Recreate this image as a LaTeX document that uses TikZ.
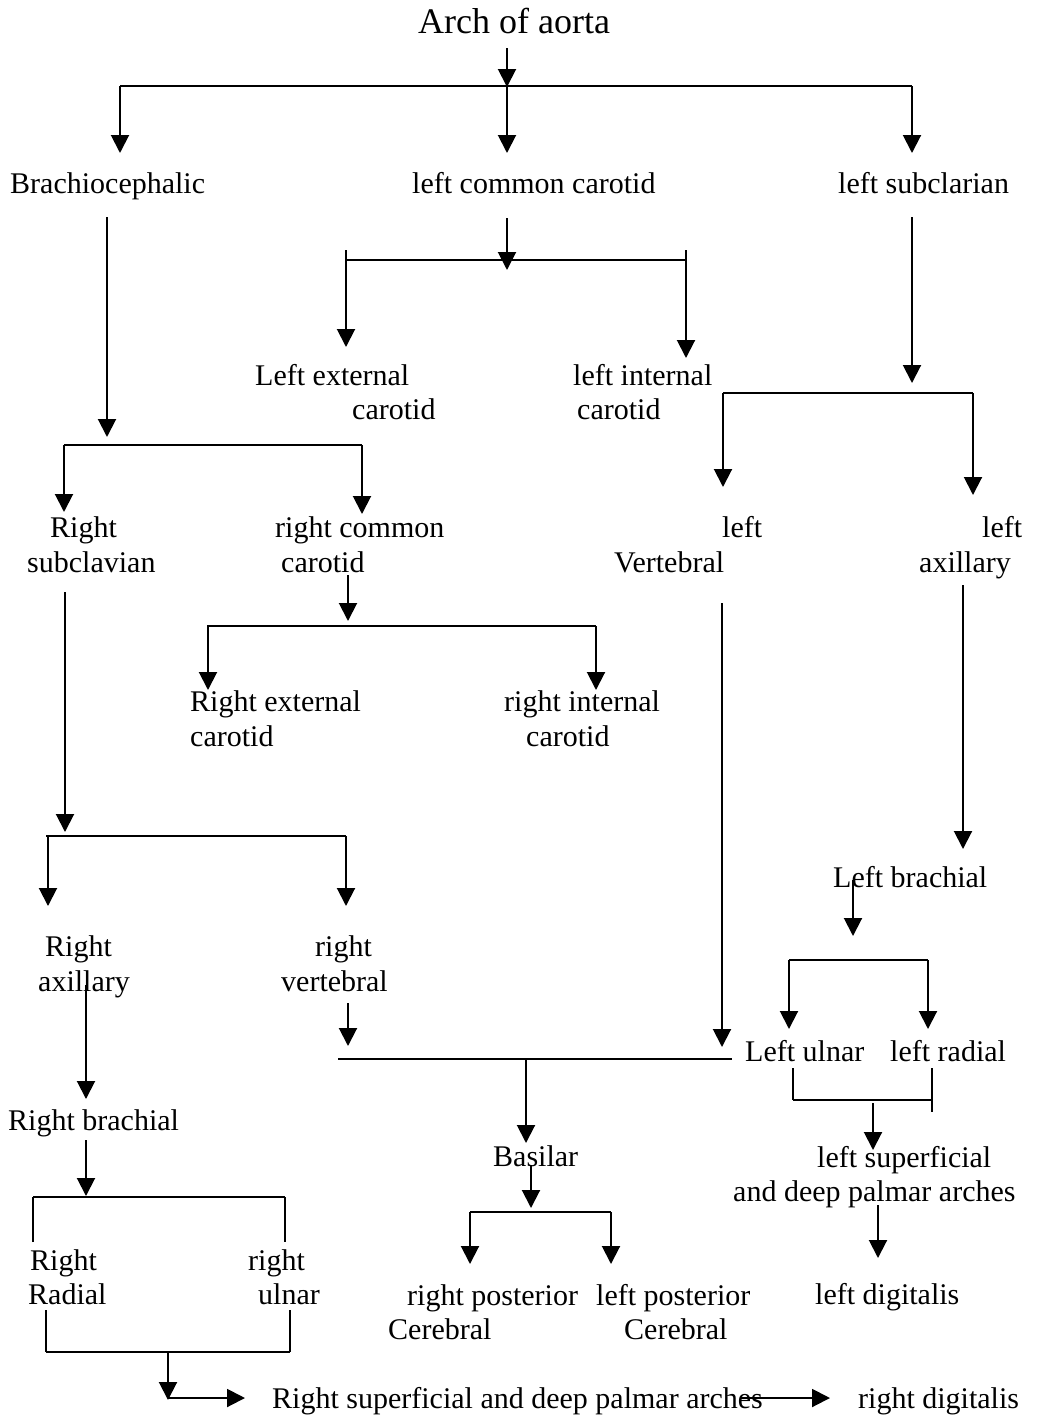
\documentclass[tikz,border=0pt]{standalone}
\usepackage{fontspec}
\setmainfont{Liberation Serif}
\usetikzlibrary{arrows.meta}
\begin{document}
\begin{tikzpicture}[x=1pt,y=-1pt,
  lbl/.style={anchor=base west,inner sep=0pt,font=\fontsize{30}{34}\selectfont},
  ttl/.style={anchor=base west,inner sep=0pt,font=\fontsize{36}{40}\selectfont},
  conn/.style={line width=2pt},
  bar/.style={line width=2.4pt},
  arr/.style={line width=2pt,-{Triangle[width=18pt,length=18pt]}}]
\useasboundingbox (0,0) rectangle (1036,1416);
% ---- texts
\node[ttl] (t) at (418,33) {Arch of aorta};
\node[lbl] (b1) at (10,193) {Brachiocephalic};
\node[lbl] (lcc) at (412,193) {left common carotid};
\node[lbl] (lsub) at (838,193) {left subclarian};
\node[lbl] (lext1) at (255,385) {Left external};
\node[lbl] (lext2) at (352,419) {carotid};
\node[lbl] (lint1) at (573,385) {left internal};
\node[lbl] (lint2) at (577,419) {carotid};
\node[lbl] (rsub1) at (50,537) {Right};
\node[lbl] (rsub2) at (27,572) {subclavian};
\node[lbl] (rcc1) at (275,537) {right common};
\node[lbl] (rcc2) at (281,572) {carotid};
\node[lbl] (lvert1) at (722,537) {left};
\node[lbl] (lvert2) at (614,572) {Vertebral};
\node[lbl] (lax1) at (982,537) {left};
\node[lbl] (lax2) at (919,572) {axillary};
\node[lbl] (rext1) at (190,711) {Right external};
\node[lbl] (rext2) at (190,746) {carotid};
\node[lbl] (rint1) at (504,711) {right internal};
\node[lbl] (rint2) at (526,746) {carotid};
\node[lbl] (lbr) at (833,887) {Left brachial};
\node[lbl] (rax1) at (45,956) {Right};
\node[lbl] (rax2) at (38,991) {axillary};
\node[lbl] (rvert1) at (315,956) {right};
\node[lbl] (rvert2) at (281,991) {vertebral};
\node[lbl] (lul) at (745,1061) {Left ulnar};
\node[lbl] (lrad) at (890,1061) {left radial};
\node[lbl] (rbr) at (8,1130) {Right brachial};
\node[lbl] (bas) at (493,1166) {Basilar};
\node[lbl] (lsup1) at (817,1167) {left superficial};
\node[lbl] (lsup2) at (733,1201) {and deep palmar arches};
\node[lbl] (rrad1) at (30,1270) {Right};
\node[lbl] (rrad2) at (28,1304) {Radial};
\node[lbl] (rul1) at (248,1270) {right};
\node[lbl] (rul2) at (258,1304) {ulnar};
\node[lbl] (rpc1) at (407,1305) {right posterior};
\node[lbl] (rpc2) at (388,1339) {Cerebral};
\node[lbl] (lpc1) at (596,1305) {left posterior};
\node[lbl] (lpc2) at (624,1339) {Cerebral};
\node[lbl] (ldig) at (815,1304) {left digitalis};
\node[lbl] (rsp) at (272,1408) {Right superficial and deep palmar arches};
\node[lbl] (rdig) at (858,1408) {right digitalis};
% ---- junction coordinates
\coordinate (a0) at (507,48);  \coordinate (a1) at (507,87);
\coordinate (h1l) at (120,86); \coordinate (h1r) at (912,86);
\coordinate (e1a) at (120,153); \coordinate (e1b) at (507,153); \coordinate (e1c) at (912,153);
\coordinate (b0) at (107,217); \coordinate (b1e) at (107,437);
\coordinate (h2l) at (64,445); \coordinate (h2r) at (362,445);
\coordinate (e2a) at (64,512); \coordinate (e2b) at (362,514);
\coordinate (c0) at (507,218); \coordinate (c1) at (507,270);
\coordinate (h3l) at (346,260); \coordinate (h3r) at (686,260);
\coordinate (s3l) at (346,250); \coordinate (s3r) at (686,250);
\coordinate (e3a) at (346,347); \coordinate (e3b) at (686,358);
\coordinate (d0) at (912,217); \coordinate (d1) at (912,383);
\coordinate (h4l) at (723,393); \coordinate (h4r) at (973,393);
\coordinate (e4a) at (723,487); \coordinate (e4b) at (973,495);
\coordinate (f0) at (348,575); \coordinate (f1) at (348,621);
\coordinate (h5l) at (207,626); \coordinate (h5r) at (596,626);
\coordinate (s5l) at (208,626);
\coordinate (e5a) at (208,690); \coordinate (e5b) at (596,690);
\coordinate (g0) at (65,592); \coordinate (g1) at (65,832);
\coordinate (h6l) at (46,836); \coordinate (h6r) at (346,836);
\coordinate (s6l) at (48,836);
\coordinate (e6a) at (48,906); \coordinate (e6b) at (346,906);
\coordinate (lv0) at (722,603); \coordinate (lv1) at (722,1047);
\coordinate (la0) at (963,585); \coordinate (la1) at (963,849);
\coordinate (k0) at (853,880); \coordinate (k1) at (853,936);
\coordinate (h7l) at (789,960); \coordinate (h7r) at (928,960);
\coordinate (e7a) at (789,1029); \coordinate (e7b) at (928,1029);
\coordinate (m1) at (793,1068); \coordinate (m2) at (793,1100);
\coordinate (m3) at (932,1100); \coordinate (m4) at (932,1068); \coordinate (m5) at (932,1112);
\coordinate (n0) at (873,1103); \coordinate (n1) at (873,1150);
\coordinate (p0) at (878,1205); \coordinate (p1) at (878,1258);
\coordinate (q0) at (348,1003); \coordinate (q1) at (348,1046);
\coordinate (h8l) at (338,1059); \coordinate (h8r) at (732,1059);
\coordinate (q2) at (526,1059); \coordinate (q3) at (526,1143);
\coordinate (r0) at (531,1165); \coordinate (r1) at (531,1208);
\coordinate (h9l) at (470,1212); \coordinate (h9r) at (611,1212);
\coordinate (e9a) at (470,1264); \coordinate (e9b) at (611,1264);
\coordinate (u0) at (86,985); \coordinate (u1) at (86,1099);
\coordinate (v0) at (86,1140); \coordinate (v1) at (86,1196);
\coordinate (w1) at (33,1242); \coordinate (w2) at (33,1197);
\coordinate (w3) at (285,1197); \coordinate (w4) at (285,1242);
\coordinate (y1) at (46,1310); \coordinate (y2) at (46,1352);
\coordinate (y3) at (290,1352); \coordinate (y4) at (290,1310);
\coordinate (z0) at (168,1352); \coordinate (z1) at (168,1400);
\coordinate (z2) at (168,1398); \coordinate (z3) at (245,1398);
\coordinate (z4) at (740,1398); \coordinate (z5) at (830,1398);
% ---- connectors
\draw[arr] (a0) -- (a1);
\draw[bar] (h1l) -- (h1r);
\draw[arr] (h1l) -- (e1a);
\draw[arr] (a1) -- (e1b);
\draw[arr] (h1r) -- (e1c);

\draw[arr] (b0) -- (b1e);
\draw[bar] (h2l) -- (h2r);
\draw[arr] (h2l) -- (e2a);
\draw[arr] (h2r) -- (e2b);

\draw[bar] (h3l) -- (h3r);
\draw[arr] (c0) -- (c1);
\draw[arr] (s3l) -- (e3a);
\draw[arr] (s3r) -- (e3b);

\draw[arr] (d0) -- (d1);
\draw[bar] (h4l) -- (h4r);
\draw[arr] (h4l) -- (e4a);
\draw[arr] (h4r) -- (e4b);

\draw[arr] (f0) -- (f1);
\draw[bar] (h5l) -- (h5r);
\draw[arr] (s5l) -- (e5a);
\draw[arr] (h5r) -- (e5b);

\draw[arr] (g0) -- (g1);
\draw[bar] (h6l) -- (h6r);
\draw[arr] (s6l) -- (e6a);
\draw[arr] (h6r) -- (e6b);

\draw[arr] (lv0) -- (lv1);
\draw[arr] (la0) -- (la1);

\draw[arr] (k0) -- (k1);
\draw[bar] (h7l) -- (h7r);
\draw[arr] (h7l) -- (e7a);
\draw[arr] (h7r) -- (e7b);

\draw[conn] (m1) -- (m2);
\draw[bar] (m2) -- (m3);
\draw[conn] (m4) -- (m5);
\draw[arr] (n0) -- (n1);
\draw[arr] (p0) -- (p1);

\draw[arr] (q0) -- (q1);
\draw[bar] (h8l) -- (h8r);
\draw[arr] (q2) -- (q3);
\draw[arr] (r0) -- (r1);
\draw[bar] (h9l) -- (h9r);
\draw[arr] (h9l) -- (e9a);
\draw[arr] (h9r) -- (e9b);

\draw[arr] (u0) -- (u1);
\draw[arr] (v0) -- (v1);
\draw[conn] (w1) -- (w2);
\draw[bar] (w2) -- (w3);
\draw[conn] (w3) -- (w4);

\draw[conn] (y1) -- (y2);
\draw[bar] (y2) -- (y3);
\draw[conn] (y4) -- (y3);
\draw[arr] (z0) -- (z1);
\draw[arr] (z2) -- (z3);
\draw[arr] (z4) -- (z5);
\end{tikzpicture}
\end{document}
